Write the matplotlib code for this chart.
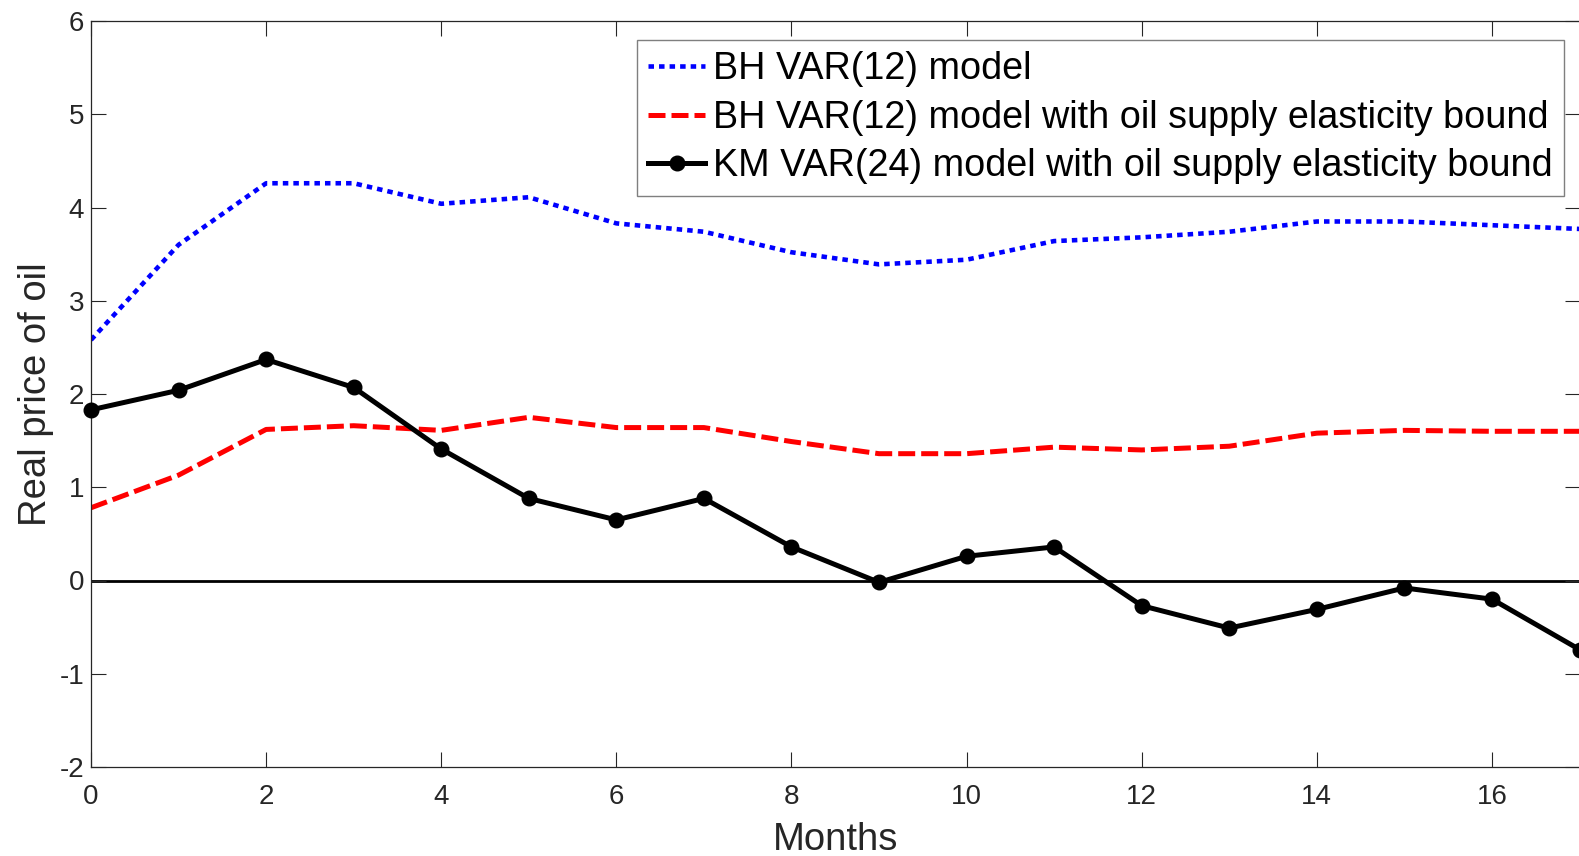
import numpy as np
import matplotlib
matplotlib.use('Agg')
import matplotlib.pyplot as plt

plt.rcParams['font.family'] = ['Liberation Sans', 'DejaVu Sans']
plt.rcParams['axes.unicode_minus'] = False

# Impulse responses of the real price of oil
months = list(range(18))
bh_var12 = [2.58, 3.60, 4.26, 4.26, 4.04, 4.11, 3.83, 3.74, 3.52, 3.39,
            3.44, 3.64, 3.68, 3.74, 3.85, 3.85, 3.81, 3.77]
bh_var12_bound = [0.78, 1.13, 1.62, 1.66, 1.61, 1.75, 1.64, 1.64, 1.49, 1.36,
                  1.36, 1.43, 1.40, 1.44, 1.58, 1.61, 1.60, 1.60]
km_var24_bound = [1.83, 2.04, 2.37, 2.07, 1.41, 0.88, 0.65, 0.88, 0.36, -0.02,
                  0.26, 0.36, -0.27, -0.51, -0.31, -0.08, -0.20, -0.74]

labels = ['BH VAR(12) model',
          'BH VAR(12) model with oil supply elasticity bound',
          'KM VAR(24) model with oil supply elasticity bound']

W, H = 1579, 856
fig = plt.figure(figsize=(W / 100, H / 100), dpi=100)
ax = fig.add_axes([91 / W, 1 - 767 / H, (W - 91 + 0.5) / W, (767 - 21) / H])

ax.axhline(0, color='black', linewidth=2, zorder=1)
l1, = ax.plot(months, bh_var12, color='blue', linewidth=3.3,
              dashes=(1.2, 1.1), dash_capstyle='butt', label=labels[0], zorder=2)
l2, = ax.plot(months, bh_var12_bound, color='red', linewidth=3.6,
              dashes=(3.4, 1.2), dash_capstyle='butt', label=labels[1], zorder=2)
l3, = ax.plot(months, km_var24_bound, color='black', linewidth=3.6,
              marker='o', markersize=10.5, label=labels[2], zorder=3,
              clip_on=False)

ax.set_xlim(0, 17)
ax.set_ylim(-2, 6)
ax.set_xticks(range(0, 17, 2))
ax.set_yticks(range(-2, 7))

ax.tick_params(direction='in', length=10.8, width=0.8, colors='#262626',
               labelsize=20, top=True, right=True, pad=5)
ax.tick_params(axis='x', pad=12)
for s in ax.spines.values():
    s.set_color('#262626')
    s.set_linewidth(0.9)

ax.set_xlabel('Months', fontsize=27.5, color='#262626', labelpad=9)
ax.set_ylabel('Real price of oil', fontsize=27.5, color='#262626', labelpad=4)

leg = fig.legend(handles=[l1, l2, l3], loc='upper left',
                 bbox_to_anchor=(637 / W, 1 - 40 / H), borderaxespad=0,
                 fontsize=27.2, handlelength=1.5, handletextpad=0.2,
                 labelspacing=0.33, borderpad=0.3, fancybox=False,
                 framealpha=1, edgecolor='#7f7f7f')
leg.get_frame().set_linewidth(1.0)

fig.savefig('out.png', dpi=100)
